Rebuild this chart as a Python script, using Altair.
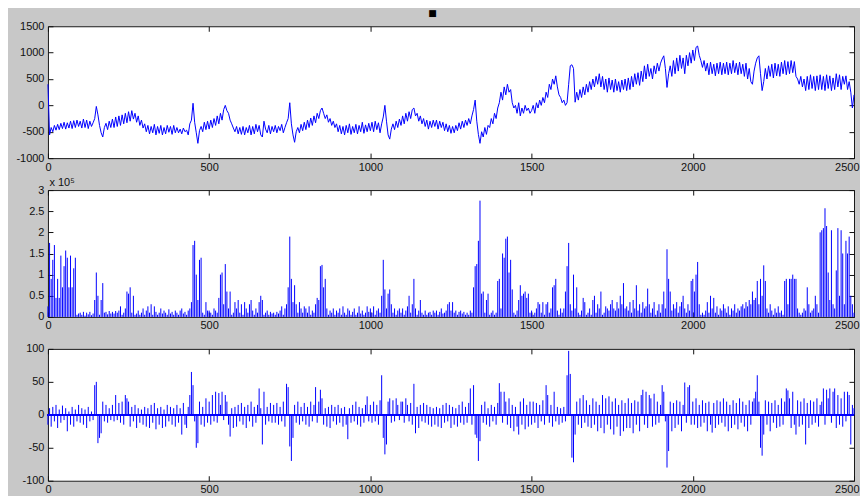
import altair as alt
import pandas as pd

STEP = 5  # sample spacing of the stored series (in sample-index units)

# Panel 1: raw signal, one value every 5 samples (0 .. 2500)
top_signal = [
    400, -560, -420, -500, -380, -470, -360, -460, -340, -440, -320, -450, -330, -430, -300, -440, -290, -420, -280, -400,
    -300, -430, -260, -420, -280, -440, -300, -400, -330, -250, -20, -180, -380, -520, -600, -420, -340, -460, -300, -420,
    -260, -420, -220, -400, -200, -380, -180, -350, -150, -330, -120, -300, -100, -260, -150, -320, -200, -380, -280, -430,
    -350, -500, -380, -540, -400, -520, -360, -560, -400, -530, -380, -560, -420, -540, -380, -510, -400, -550, -380, -520,
    -420, -520, -450, -540, -430, -500, -470, -560, -350, -280, 40, -320, -520, -720, -480, -400, -500, -320, -460, -300,
    -450, -280, -420, -250, -380, -200, -350, -150, -280, -80, 0, -100, -150, -280, -350, -430, -500, -400, -540, -420,
    -550, -400, -560, -420, -520, -380, -560, -400, -540, -360, -500, -380, -560, -600, -300, -450, -520, -380, -540, -400,
    -500, -380, -520, -400, -480, -360, -520, -420, -330, -250, 50, -350, -560, -700, -500, -420, -520, -360, -480, -320,
    -460, -280, -420, -240, -380, -200, -330, -150, -250, -100, -50, -150, -250, -180, -320, -250, -380, -300, -420, -350,
    -500, -380, -540, -400, -560, -380, -520, -350, -550, -400, -520, -360, -540, -380, -500, -320, -530, -370, -500, -340,
    -480, -320, -500, -300, -460, -330, -520, -350, -220, 0, -300, -560, -640, -450, -350, -460, -300, -420, -260, -380,
    -200, -350, -150, -300, -120, -250, -80, -50, -200, -150, -300, -200, -350, -250, -400, -280, -450, -300, -420, -280,
    -400, -280, -450, -300, -420, -320, -480, -350, -500, -380, -530, -400, -520, -380, -480, -330, -450, -300, -420, -280,
    -380, -250, -350, -200, -80, 100, -300, -550, -720, -500, -600, -420, -550, -380, -420, -250, -350, -150, -250, -50,
    50, 250, 100, 350, 200, 400, 250, 300, 50, -50, 0, -150, 50, -200, -50, -150, 0, -100, -50, -150,
    -100, 0, -150, 50, -50, 100, 0, 150, 50, 250, 150, 400, 300, 500, 400, 560, 350, 200, 150, 50,
    100, 0, 50, 400, 750, 770, 700, 60, 250, 100, 300, 150, 350, 200, 400, 250, 450, 300, 500, 350,
    550, 400, 600, 350, 550, 300, 500, 250, 520, 300, 480, 250, 500, 280, 450, 250, 480, 300, 500, 280,
    520, 300, 550, 350, 600, 400, 620, 380, 650, 450, 750, 500, 780, 550, 700, 500, 750, 600, 800, 650,
    800, 880, 940, 700, 340, 600, 750, 550, 850, 600, 900, 650, 950, 700, 900, 600, 950, 750, 1000, 800,
    1050, 850, 1100, 1125, 950, 850, 720, 850, 650, 800, 580, 820, 600, 780, 560, 800, 600, 820, 580, 800,
    600, 820, 580, 800, 600, 850, 620, 800, 580, 820, 600, 780, 550, 800, 500, 700, 450, 400, 650, 800,
    900, 940, 600, 280, 450, 700, 500, 750, 550, 780, 520, 800, 560, 780, 550, 820, 600, 850, 580, 830,
    600, 850, 620, 830, 550, 500, 400, 550, 350, 500, 280, 550, 300, 580, 320, 550, 280, 560, 300, 580,
    300, 550, 280, 580, 320, 560, 280, 520, 300, 600, 350, 580, 300, 550, 400, 560, 300, 450, 250, -50,
    200,
]

# Panel 2: energy, in units of 10^5
energy = [
    0.25, 1.75, 0.9, 1.35, 1.7, 0.45, 0.9, 0.45, 1.45, 0.7, 1.2, 1.57, 1.4, 0.7, 1.45, 0.7, 1.15, 1.4, 0.05, 0.08,
    0.1, 0.05, 0.12, 0.03, 0.1, 0.06, 0.12, 0.04, 0.08, 0.4, 1.05, 0.5, 0.05, 0.4, 0.8, 0.1, 0.12, 0.06, 0.14, 0.08,
    0.12, 0.08, 0.14, 0.1, 0.15, 0.25, 0.05, 0.1, 0.2, 0.6, 0.55, 0.7, 0.1, 0.5, 0.05, 0.08, 0.15, 0.05, 0.1, 0.2,
    0.05, 0.15, 0.25, 0.1, 0.3, 0.05, 0.25, 0.12, 0.05, 0.1, 0.2, 0.08, 0.15, 0.1, 0.05, 0.18, 0.08, 0.12, 0.05, 0.15,
    0.1, 0.05, 0.15, 0.2, 0.08, 0.12, 0.05, 0.15, 0.2, 0.35, 1.7, 1.8, 1.0, 0.4, 1.35, 1.4, 0.1, 0.05, 0.35, 0.15,
    0.15, 0.1, 0.05, 0.2, 0.15, 0.1, 0.45, 1.0, 1.05, 0.3, 1.25, 0.6, 0.2, 0.6, 0.05, 0.1, 0.35, 0.2, 0.4, 0.1,
    0.3, 0.05, 0.35, 0.2, 0.1, 0.3, 0.4, 0.15, 0.05, 0.2, 0.1, 0.35, 0.5, 0.4, 0.05, 0.1, 0.15, 0.05, 0.12, 0.08,
    0.1, 0.05, 0.12, 0.08, 0.15, 0.25, 0.05, 0.2, 0.3, 0.7, 1.9, 0.9, 0.35, 0.75, 0.3, 0.1, 0.35, 0.2, 0.1, 0.25,
    0.2, 0.1, 0.25, 0.05, 0.15, 0.1, 0.3, 0.45, 0.4, 1.2, 1.23, 0.7, 0.9, 0.2, 0.05, 0.15, 0.1, 0.2, 0.05, 0.15,
    0.1, 0.2, 0.05, 0.25, 0.1, 0.05, 0.2, 0.15, 0.05, 0.12, 0.2, 0.05, 0.1, 0.25, 0.08, 0.15, 0.05, 0.1, 0.25, 0.12,
    0.2, 0.1, 0.25, 0.05, 0.15, 0.2, 0.1, 0.5, 1.35, 0.65, 0.2, 0.55, 0.65, 0.3, 0.1, 0.2, 0.05, 0.15, 0.2, 0.1,
    0.2, 0.05, 0.15, 0.25, 0.5, 0.1, 0.3, 0.9, 0.2, 0.05, 0.15, 0.4, 0.1, 0.05, 0.15, 0.05, 0.1, 0.12, 0.05, 0.15,
    0.1, 0.15, 0.05, 0.12, 0.2, 0.08, 0.1, 0.15, 0.3, 0.35, 0.15, 0.35, 0.1, 0.15, 0.05, 0.12, 0.15, 0.08, 0.12, 0.05,
    0.1, 0.05, 0.15, 0.1, 0.7, 1.2, 1.25, 1.8, 2.75, 0.55, 0.6, 0.1, 0.4, 0.55, 0.05, 0.1, 0.15, 0.05, 0.1, 0.85,
    0.9, 0.2, 1.5, 1.4, 1.85, 1.9, 1.05, 1.35, 0.65, 0.1, 0.05, 0.15, 0.4, 0.75, 0.5, 0.55, 0.6, 0.45, 0.55, 0.1,
    0.15, 0.05, 0.1, 0.2, 0.35, 0.3, 0.1, 0.35, 0.05, 0.3, 0.35, 0.1, 0.2, 0.7, 0.75, 0.9, 0.15, 0.05, 0.2, 0.1,
    0.2, 0.6, 1.2, 1.75, 0.3, 0.15, 1.0, 0.2, 0.7, 0.1, 0.05, 0.15, 0.45, 0.35, 0.05, 0.1, 0.2, 0.05, 0.4, 0.5,
    0.1, 0.3, 0.2, 0.6, 0.05, 0.1, 0.25, 0.2, 0.15, 0.3, 0.4, 0.2, 0.15, 0.35, 0.2, 0.5, 0.3, 0.8, 0.2, 0.25,
    0.15, 0.35, 0.1, 0.4, 0.2, 0.75, 0.15, 0.3, 0.1, 0.35, 0.2, 0.25, 0.67, 0.3, 0.1, 0.2, 0.35, 0.05, 0.15, 0.3,
    0.1, 0.3, 0.6, 0.2, 1.6, 0.9, 0.6, 0.15, 0.3, 0.2, 0.35, 0.1, 0.25, 0.35, 0.5, 0.2, 0.1, 0.3, 0.15, 0.85,
    0.9, 0.6, 1.0, 1.3, 0.3, 0.05, 0.1, 0.05, 0.15, 0.35, 0.1, 0.5, 0.2, 0.45, 0.1, 0.25, 0.05, 0.2, 0.15, 0.3,
    0.2, 0.1, 0.25, 0.05, 0.2, 0.15, 0.3, 0.1, 0.2, 0.15, 0.25, 0.3, 0.2, 0.35, 0.25, 0.4, 0.3, 0.6, 0.4, 0.45,
    0.85, 0.3, 0.9, 0.5, 1.22, 0.85, 0.2, 0.1, 0.3, 0.15, 0.05, 0.2, 0.1, 0.25, 0.1, 0.15, 0.05, 0.85, 0.9, 0.3,
    0.9, 0.9, 1.0, 0.9, 0.9, 0.2, 0.1, 0.05, 0.1, 0.2, 0.15, 0.7, 0.3, 0.1, 0.15, 0.2, 0.5, 0.3, 0.1, 2.0,
    2.05, 2.1, 2.57, 2.15, 1.05, 0.4, 2.05, 0.3, 0.2, 1.1, 2.1, 0.5, 2.05, 1.5, 0.3, 1.8, 1.5, 1.9, 0.5, 0.3,
    0.1,
]

# Panel 3: detail signal
detail = [
    -15, 10, -18, 12, -10, 15, -20, 8, -12, 14, -8, 10, -25, 5, -15, 12, -18, 8, -10, 15,
    -12, 10, -15, 8, -20, 12, -10, 5, -8, 45, 50, -43, -35, -28, 20, -10, 15, -12, 10, -8,
    15, -10, 30, -8, 18, -12, 20, -15, 30, 25, 20, -18, 12, -10, 15, -20, 10, -12, 8, -15,
    12, -18, 10, -20, 15, -12, 18, -22, 10, -15, 12, -20, 8, -18, 15, -10, 12, -15, 10, -18,
    15, -12, 10, -30, 18, -15, -20, 12, 30, 65, 45, -10, -50, -43, 20, -15, 12, -18, 25, -12,
    20, -15, 30, -10, 35, -12, 33, 15, 35, -8, 30, 20, -15, -33, 10, -20, 12, -18, 15, -10,
    18, -15, 12, -20, 15, -10, 20, -18, 12, -12, 15, 40, 10, -45, 35, -15, 12, -10, 18, -12,
    15, -12, 18, -15, 12, -10, 20, -18, 47, 42, -48, -70, -35, 15, -12, 20, -15, 12, -10, 18,
    -15, 12, -18, 20, -10, 15, 42, -12, 20, 38, 25, -15, 10, -18, 12, -20, 15, -10, 12, -15,
    15, -12, 10, -18, 12, -15, -37, 10, -12, 15, -10, 20, -15, 12, -18, 10, -12, 15, 28, -10,
    15, -12, 20, -10, 15, -15, 22, 60, -35, -60, -45, 20, 25, -12, 22, -10, 25, 15, -8, 20,
    20, -12, 25, 15, -10, 18, -15, 47, -28, 12, -20, 15, -10, 18, -12, 15, -15, 12, -18, 10,
    -15, 12, -18, 10, -20, 15, -12, 18, -10, 15, -20, 12, -15, 10, -18, 15, -12, 20, -15, 12,
    -12, 18, 40, -15, 45, -30, -35, -70, -40, 15, -12, 20, -15, 10, -18, 15, -10, 12, -15, 18,
    48, 35, -12, 35, 20, -15, 25, -20, 15, -25, 12, -18, -30, 20, -15, 25, -22, 15, -18, 20,
    -15, 20, -12, 18, -20, 15, -10, 22, -15, 45, 30, -12, 15, -18, 35, -10, 12, -15, 10, -12,
    12, -10, 60, 97, 62, -65, -72, -30, 20, -15, 25, -20, 30, -12, 22, -18, 15, -20, 25, -15,
    20, -25, 15, -20, 30, -28, 25, -15, 28, -22, 20, -30, 25, -18, 15, -32, 22, -25, 18, -20,
    25, -20, 18, -28, 22, -15, 20, -25, 30, 38, -15, 35, -20, 30, 25, -18, 32, -15, 20, -12,
    15, 45, 35, -10, -80, -55, 20, -25, 18, -20, 22, -15, 20, -25, 15, 49, -12, 42, 45, -15,
    20, -15, 25, -20, 15, -18, 22, -12, 18, -25, 20, -15, -27, 18, -20, 22, -15, 20, -12, 25,
    -18, 20, -25, 15, -20, 22, -15, 18, -22, 25, -12, 20, -18, 15, -25, 22, -15, 20, 25, 35,
    60, 20, -50, -62, -30, 22, -15, 20, -25, 18, -12, 22, -20, 15, -18, 25, -15, 20, 40, 37,
    25, -20, 35, -15, -30, 22, -18, 20, -15, 25, -45, 18, -20, 22, -15, 20, -12, 25, -18, 15,
    20, 40, -15, 38, 25, 40, -12, 35, 40, -20, 30, -15, 25, -18, 35, -10, 35, 30, -45, 15,
    10,
]

x_ticks = [0, 500, 1000, 1500, 2000, 2500]
top_ticks = [-1000, -500, 0, 500, 1000, 1500]
mid_ticks = [0, 0.5, 1, 1.5, 2, 2.5, 3]
bot_ticks = [-100, -50, 0, 50, 100]

W = 807
BLUE = "#0000ff"
INK = "#111111"
FONT = "Liberation Sans"


def frame(vals):
    return pd.DataFrame({"n": [i * STEP for i in range(len(vals))], "v": vals})


def panel(vals, ydom, yticks, kind, height, ytitle=None):
    df = frame(vals)
    xs = alt.Scale(domain=[0, 2500], nice=False, zero=False)
    ys = alt.Scale(domain=ydom, nice=False, zero=False)
    x_axis = alt.Axis(
        values=x_ticks, orient="bottom", offset=-5, tickSize=5, labelPadding=3,
        labelFlush=False, labelOverlap=False, labelExpr="'' + datum.value",
        labelAlign={"condition": {"test": "datum.value == 2500", "value": "right"}, "value": "center"},
        labelOffset={"condition": {"test": "datum.value == 2500", "value": 5}, "value": 0},
        title=None, grid=False, domain=False,
    )
    y_kwargs = dict(
        values=yticks, orient="left", offset=-5, tickSize=5, labelPadding=4,
        labelFlush=False, labelOverlap=False, labelExpr="'' + datum.value",
        grid=False, domain=False,
    )
    if ytitle:
        y_axis = alt.Axis(title=ytitle, titleAngle=0, titleAlign="left",
                          titleBaseline="alphabetic", titleX=-4, titleY=-5, **y_kwargs)
    else:
        y_axis = alt.Axis(title=None, **y_kwargs)

    base = alt.Chart(df)
    X = alt.X("n:Q", scale=xs, axis=x_axis)
    Y = alt.Y("v:Q", scale=ys, axis=y_axis)
    layers = []
    if kind == "line":
        layers.append(base.mark_line(color=BLUE, strokeWidth=1).encode(x=X, y=Y))
    else:
        layers.append(base.mark_rule(color=BLUE, strokeWidth=1).encode(x=X, y=Y, y2=alt.Y2(datum=0)))
        if ydom[0] < 0:
            layers.append(alt.Chart(df).mark_rule(color=BLUE, strokeWidth=1).encode(
                y=alt.Y(datum=0, type="quantitative", axis=None)))
    # mirrored inward ticks on top and right
    layers.append(base.mark_line(strokeOpacity=0).encode(
        x=alt.X("n:Q", axis=alt.Axis(values=x_ticks, orient="top", offset=-5, tickSize=5,
                                     labels=False, title=None, grid=False, domain=False)),
        y=alt.Y("v:Q", axis=alt.Axis(values=yticks, orient="right", offset=-5, tickSize=5,
                                     labels=False, title=None, grid=False, domain=False)),
    ))
    return alt.layer(*layers).resolve_axis(x="independent", y="independent").properties(
        width=W, height=height)


p1 = panel(top_signal, [-1000, 1500], top_ticks, "line", 132)
p2 = panel(energy, [0, 3], mid_ticks, "stem", 127, ytitle="x 10⁵")
p3 = panel(detail, [-100, 100], bot_ticks, "stem", 132)

chart = alt.vconcat(p1, p2, p3, spacing=32, bounds="flush").properties(
    title=alt.TitleParams("■", fontSize=9, color="#000000", anchor="middle", offset=2, dx=-5),
    background="#c8c8c8",
    padding={"left": 7, "top": 0, "right": 0, "bottom": 0},
).configure_view(
    stroke="#1a1a1a", strokeWidth=1, fill="white"
).configure_axis(
    labelFont=FONT, labelFontSize=11, labelColor=INK, tickColor=INK, tickWidth=1,
    titleFont=FONT, titleFontSize=11, titleFontWeight="normal", titleColor=INK,
).configure_title(font="DejaVu Sans")

chart.save("out.html", embed_options={"renderer": "svg", "actions": False})
